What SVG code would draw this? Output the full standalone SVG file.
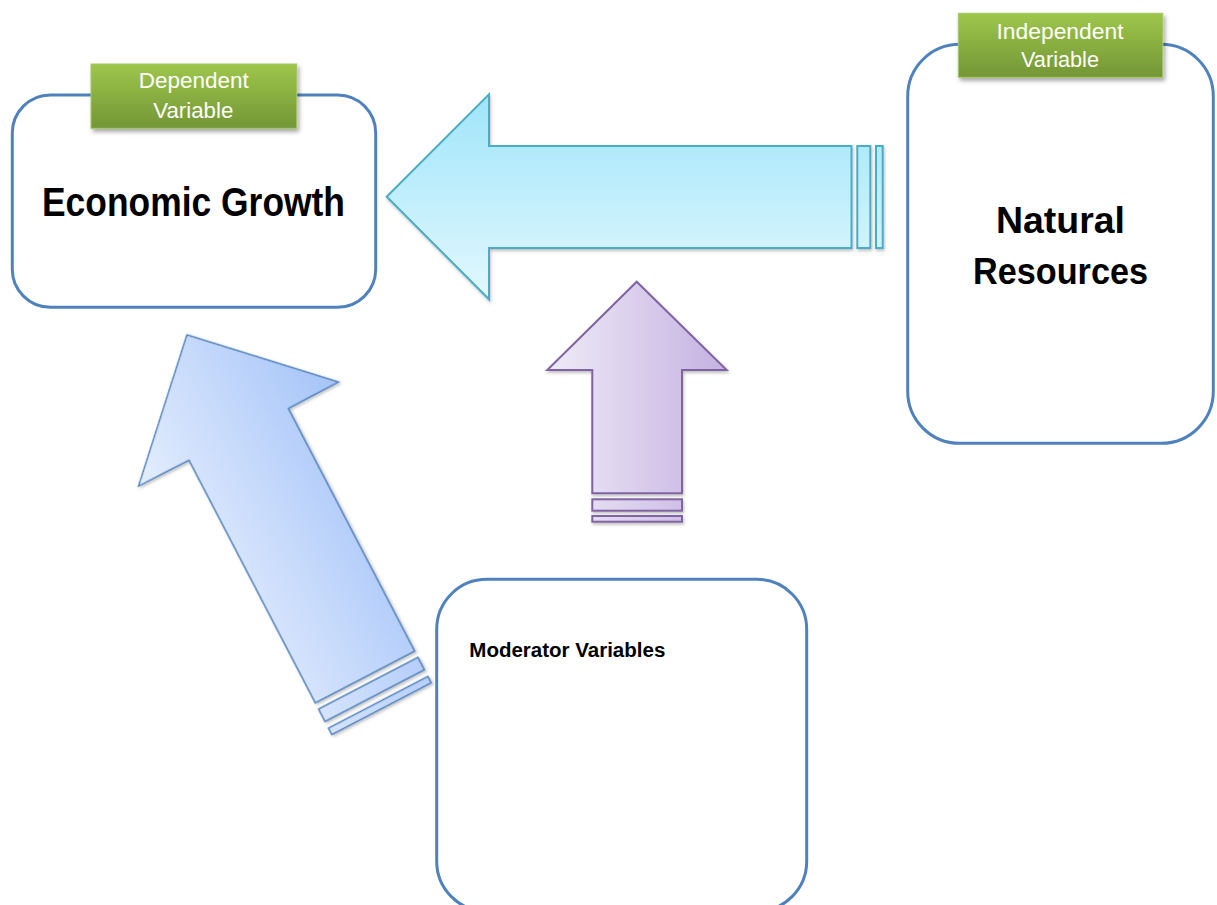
<svg xmlns="http://www.w3.org/2000/svg" width="1217" height="905" viewBox="0 0 1217 905">
  <defs>
    <linearGradient id="tagFill" x1="0" y1="0" x2="0" y2="1">
      <stop offset="0" stop-color="#9ec64b"/>
      <stop offset="1" stop-color="#739636"/>
    </linearGradient>
    <linearGradient id="cyanFill" gradientUnits="userSpaceOnUse" x1="0" y1="94" x2="0" y2="300">
      <stop offset="0" stop-color="#9fe5fa"/>
      <stop offset="1" stop-color="#e3f8fe"/>
    </linearGradient>
    <linearGradient id="purpleFill" gradientUnits="userSpaceOnUse" x1="547" y1="0" x2="727" y2="0">
      <stop offset="0" stop-color="#efebf7"/>
      <stop offset="1" stop-color="#c4b1e1"/>
    </linearGradient>
    <linearGradient id="blueFill" gradientUnits="userSpaceOnUse" x1="-112" y1="0" x2="112" y2="0">
      <stop offset="0" stop-color="#e4eefe"/>
      <stop offset="1" stop-color="#a6c4f8"/>
    </linearGradient>
    <filter id="tagShadow" x="-10%" y="-20%" width="125%" height="150%">
      <feDropShadow dx="2" dy="3" stdDeviation="2" flood-color="#000" flood-opacity="0.35"/>
    </filter>
    <filter id="arrowShadow" x="-10%" y="-10%" width="125%" height="125%">
      <feDropShadow dx="1" dy="2" stdDeviation="1.5" flood-color="#000" flood-opacity="0.25"/>
    </filter>
    <style>
      .box { fill: #ffffff; stroke: #4f81bd; stroke-width: 3; }
      .tag { fill: url(#tagFill); stroke: #a4c865; stroke-width: 1; filter: url(#tagShadow); }
      .tagText { font-family: "Liberation Sans", Arial, sans-serif; font-size: 21.5px; fill: #ffffff; text-anchor: middle; }
      .title { font-family: "Liberation Sans", Arial, sans-serif; font-weight: bold; fill: #000000; text-anchor: middle; }
      .cyan { fill: url(#cyanFill); stroke: #4bacc6; stroke-width: 2; }
      .purple { fill: url(#purpleFill); stroke: #8064a2; stroke-width: 2; }
      .blue { fill: url(#blueFill); stroke: #4f81bd; stroke-width: 1.5; }
    </style>
  </defs>

  <rect width="1217" height="905" fill="#ffffff"/>

  <!-- arrows between the variables -->
  <g id="connectors">
    <g id="arrow-natural-to-growth" filter="url(#arrowShadow)">
      <path class="cyan" d="M386.7,196.7 L489,94.3 L489,146 L851.5,146 L851.5,248 L489,248 L489,299.3 Z"/>
      <rect class="cyan" x="857.3" y="146" width="13" height="102"/>
      <rect class="cyan" x="876" y="146" width="6.7" height="102"/>
    </g>
    <g id="arrow-moderator-up" filter="url(#arrowShadow)">
      <path class="purple" d="M636.7,281.7 L726.7,370 L682,370 L682,493.3 L592.3,493.3 L592.3,370 L547.3,370 Z"/>
      <rect class="purple" x="592.3" y="499.3" width="89.7" height="11.4"/>
      <rect class="purple" x="592.3" y="516" width="89.7" height="5.7"/>
    </g>
    <g id="arrow-moderator-to-growth" filter="url(#arrowShadow)" transform="translate(365,677) rotate(-27.5)">
      <path class="blue" d="M0,-385.8 L112.6,-274 L56,-273.5 L56,0 L-56,0 L-56,-273.5 L-112.6,-274 Z"/>
      <rect class="blue" x="-56" y="7" width="112" height="14"/>
      <rect class="blue" x="-56" y="28.5" width="112" height="7.2"/>
    </g>
  </g>

  <!-- dependent variable -->
  <g id="node-economic-growth">
    <rect class="box" x="12.3" y="95" width="363.4" height="212.3" rx="38" ry="38"/>
    <text class="title" x="193.5" y="215.5" font-size="41" textLength="303" lengthAdjust="spacingAndGlyphs">Economic Growth</text>
    <rect class="tag" x="91" y="64" width="205.7" height="64.3"/>
    <text class="tagText" x="193.8" y="88.3" textLength="110" lengthAdjust="spacingAndGlyphs">Dependent</text>
    <text class="tagText" x="193.3" y="117.7" textLength="80" lengthAdjust="spacingAndGlyphs">Variable</text>
  </g>

  <!-- independent variable -->
  <g id="node-natural-resources">
    <rect class="box" x="907.7" y="44.3" width="305.6" height="399" rx="52" ry="52"/>
    <text class="title" x="1060.5" y="233.3" font-size="37" textLength="129" lengthAdjust="spacingAndGlyphs">Natural</text>
    <text class="title" x="1060.5" y="284" font-size="37" textLength="175" lengthAdjust="spacingAndGlyphs">Resources</text>
    <rect class="tag" x="958.3" y="13.3" width="204.4" height="64"/>
    <text class="tagText" x="1060" y="38.7" textLength="127" lengthAdjust="spacingAndGlyphs">Independent</text>
    <text class="tagText" x="1060" y="67.3" textLength="78" lengthAdjust="spacingAndGlyphs">Variable</text>
  </g>

  <!-- moderators -->
  <g id="node-moderator-variables">
    <rect class="box" x="436.7" y="579.3" width="370" height="332" rx="50" ry="50"/>
    <text class="title" x="469.3" y="656.7" font-size="19.5" style="text-anchor:start" textLength="196" lengthAdjust="spacingAndGlyphs">Moderator Variables</text>
  </g>
</svg>
